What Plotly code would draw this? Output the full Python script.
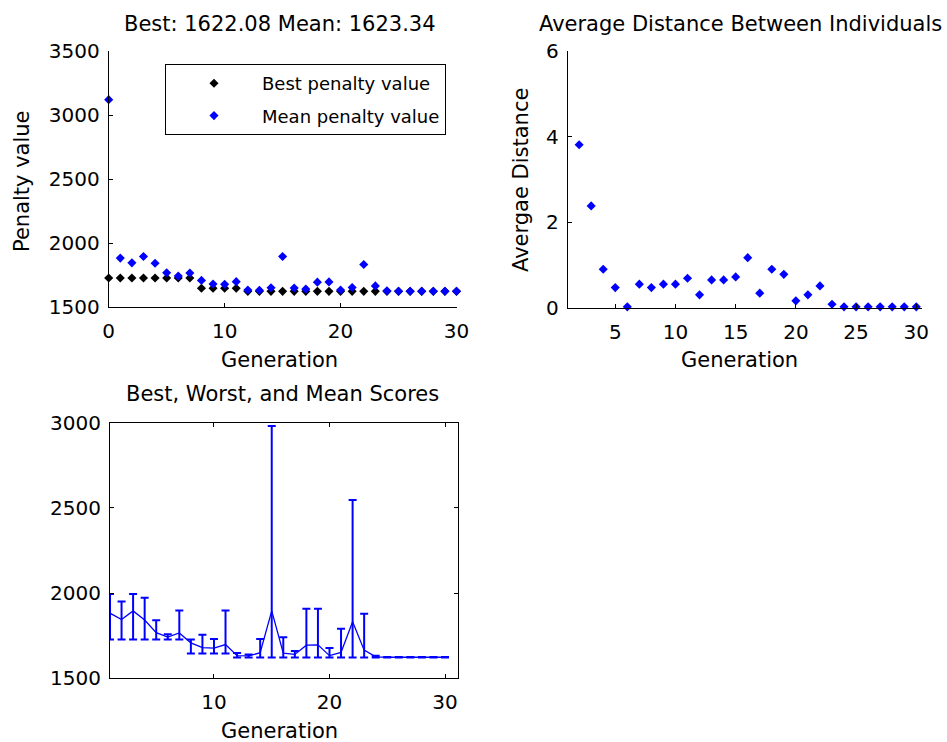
import plotly.graph_objects as go

# ---------------- data ----------------
generation = [0, 1, 2, 3, 4, 5, 6, 7, 8, 9, 10, 11, 12, 13, 14, 15,
              16, 17, 18, 19, 20, 21, 22, 23, 24, 25, 26, 27, 28, 29, 30]
best_penalty = [1727, 1727, 1727, 1727, 1727, 1727, 1727, 1727,
                1646, 1646, 1646, 1646,
                1622.08, 1622.08, 1622.08, 1622.08, 1622.08, 1622.08, 1622.08,
                1622.08, 1622.08, 1622.08, 1622.08, 1622.08, 1622.08, 1622.08,
                1622.08, 1622.08, 1622.08, 1622.08, 1622.08]
mean_penalty = [3120, 1882, 1845, 1895, 1842, 1768, 1742, 1766, 1708, 1680,
                1677, 1698, 1633, 1631, 1650, 1895, 1648, 1640, 1694, 1696,
                1633, 1652, 1832, 1665, 1626, 1623.34, 1623.34, 1623.34,
                1623.34, 1623.34, 1623.34]

dist_generation = [2, 3, 4, 5, 6, 7, 8, 9, 10, 11, 12, 13, 14, 15, 16,
                   17, 18, 19, 20, 21, 22, 23, 24, 25, 26, 27, 28, 29, 30]
avg_distance = [3.81, 2.38, 0.90, 0.47, 0.02, 0.55, 0.47, 0.55, 0.55, 0.69,
                0.30, 0.65, 0.65, 0.72, 1.17, 0.34, 0.90, 0.78, 0.16, 0.30,
                0.51, 0.08, 0.02, 0.02, 0.02, 0.02, 0.02, 0.02, 0.02]

range_generation = [1, 2, 3, 4, 5, 6, 7, 8, 9, 10, 11, 12, 13, 14, 15,
                    16, 17, 18, 19, 20, 21, 22, 23, 24, 25, 26, 27, 28, 29, 30]
range_best = [1727, 1727, 1727, 1727, 1727, 1727, 1727,
              1646, 1646, 1646, 1646,
              1622.08, 1622.08, 1622.08, 1622.08, 1622.08, 1622.08, 1622.08,
              1622.08, 1622.08, 1622.08, 1622.08, 1622.08, 1622.08, 1622.08,
              1622.08, 1622.08, 1622.08, 1622.08, 1622.08]
range_mean = [1882, 1845, 1895, 1842, 1768, 1742, 1766, 1708, 1680,
              1677, 1698, 1633, 1631, 1650, 1895, 1648, 1640, 1694, 1696,
              1633, 1652, 1832, 1665, 1626, 1623.34, 1623.34, 1623.34,
              1623.34, 1623.34, 1623.34]
range_worst = [1995, 1950, 1995, 1972, 1840, 1758, 1898, 1728, 1756, 1730,
               1898, 1648, 1640, 1730, 2980, 1740, 1660, 1908, 1908, 1678,
               1790, 2545, 1878, 1632, 1625, 1625, 1625, 1625, 1625, 1625]

# ---------------- figure ----------------
W, H = 947, 742
BLUE = '#0000ff'
FONT = 'DejaVu Sans'


def dom_x(left, right):
    return [left / W, right / W]


def dom_y(top, bottom):
    return [1 - bottom / H, 1 - top / H]


fig = go.Figure()

fig.add_trace(go.Scatter(
    x=generation, y=best_penalty, mode='markers', name='Best penalty value',
    marker=dict(symbol='diamond', size=7, color='black'),
    xaxis='x', yaxis='y', legendgroup='best', cliponaxis=False))
fig.add_trace(go.Scatter(
    x=generation, y=mean_penalty, mode='markers', name='Mean penalty value',
    marker=dict(symbol='diamond', size=7, color=BLUE),
    xaxis='x', yaxis='y', legendgroup='mean', cliponaxis=False))

fig.add_trace(go.Scatter(
    x=dist_generation, y=avg_distance, mode='markers', showlegend=False,
    marker=dict(symbol='diamond', size=7, color=BLUE),
    xaxis='x2', yaxis='y2', cliponaxis=False))

err_plus = [w - m for w, m in zip(range_worst, range_mean)]
err_minus = [m - b for m, b in zip(range_mean, range_best)]
fig.add_trace(go.Scatter(
    x=range_generation, y=range_mean, mode='lines', showlegend=False,
    line=dict(color=BLUE, width=1.3),
    error_y=dict(type='data', symmetric=False, array=err_plus,
                 arrayminus=err_minus, color=BLUE, thickness=2, width=4),
    xaxis='x3', yaxis='y3'))

axis_common = dict(showline=True, linecolor='black', linewidth=1,
                   ticks='inside', ticklen=4, tickcolor='black', tickwidth=1,
                   showgrid=False, zeroline=False, automargin=False,
                   tickfont=dict(family=FONT, size=20, color='black'))

fig.update_layout(
    template='none',
    width=W, height=H, margin=dict(l=0, r=0, t=0, b=0, pad=0),
    autosize=False,
    paper_bgcolor='white', plot_bgcolor='white',
    font=dict(family=FONT, color='black'),
    showlegend=True,
    legend=dict(x=165 / W, y=1 - 64 / H, xanchor='left', yanchor='top',
                bordercolor='black', borderwidth=1, bgcolor='white',
                font=dict(family=FONT, size=18, color='black'),
                itemwidth=86, traceorder='grouped', tracegroupgap=6),
    xaxis=dict(axis_common, domain=dom_x(108.7, 456.5), range=[0, 30],
               tickvals=[0, 10, 20, 30], anchor='y', ticklabelstandoff=6),
    yaxis=dict(axis_common, domain=dom_y(51, 307), range=[1500, 3500],
               tickvals=[1500, 2000, 2500, 3000, 3500], anchor='x',
               ticklabelstandoff=4),
    xaxis2=dict(axis_common, domain=dom_x(567.7, 921.7), range=[1.05, 30.45],
                tickvals=[5, 10, 15, 20, 25, 30], anchor='y2',
                ticklabelstandoff=6),
    yaxis2=dict(axis_common, domain=dom_y(51, 307.7), range=[0, 6],
                tickvals=[0, 2, 4, 6], anchor='x2', ticklabelstandoff=4),
    xaxis3=dict(axis_common, domain=dom_x(110, 458.3), range=[1, 31.15],
                tickvals=[10, 20, 30], anchor='y3', mirror='allticks',
                ticklabelstandoff=6),
    yaxis3=dict(axis_common, domain=dom_y(422.5, 678.3), range=[1500, 3000],
                tickvals=[1500, 2000, 2500, 3000], anchor='x3',
                mirror='allticks', ticklabelstandoff=4),
)


def label(text, x, y, size=21, angle=0):
    return dict(text=text, x=x / W, y=1 - y / H, xref='paper', yref='paper',
                xanchor='center', yanchor='middle', showarrow=False,
                textangle=angle, font=dict(family=FONT, size=size, color='black'))


fig.update_layout(annotations=[
    label('Best: 1622.08 Mean: 1623.34', 280, 24),
    label('Average Distance Between Individuals', 740, 24),
    label('Best, Worst, and Mean Scores', 282, 394),
    label('Generation', 279, 360),
    label('Generation', 739, 360),
    label('Generation', 279, 731),
    label('Penalty value', 22, 181, angle=-90),
    label('Avergae Distance', 521, 180, angle=-90),
])

fig.write_html("out.html", config={'displayModeBar': False},
               post_script="document.body.style.margin='0';")
